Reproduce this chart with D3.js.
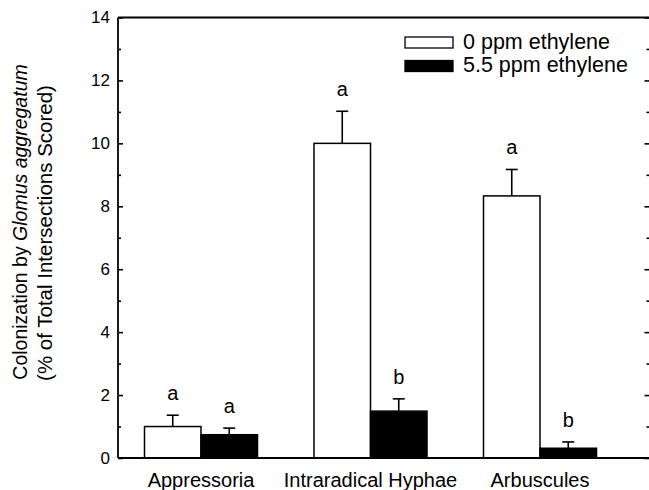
<!DOCTYPE html>
<html><head><meta charset="utf-8">
<script src="https://cdn.jsdelivr.net/npm/d3@7"></script>
<style>
html,body{margin:0;padding:0;background:#fff;}
svg{display:block;font-family:"Liberation Sans",Arial,sans-serif;}
</style></head>
<body><svg id="c" width="649" height="490"></svg>
<script>
const categories = ["Appressoria", "Intraradical Hyphae", "Arbuscules"];
const seriesNames = ["0 ppm ethylene", "5.5 ppm ethylene"];
const control = [1.0, 10.0, 8.33];
const controlErr = [0.36, 1.02, 0.84];
const ethylene = [0.74, 1.49, 0.31];
const ethyleneErr = [0.21, 0.39, 0.2];
const controlLetters = ["a", "a", "a"];
const ethyleneLetters = ["a", "b", "b"];
const yTicks = [0, 2, 4, 6, 8, 10, 12, 14];
const yMinorTicks = [1, 3, 5, 7, 9, 11, 13];

const svg = d3.select("#c");
const mLeft = 118, mRight = 649.5, mTop = 17.5, mBottom = 458;

const y = d3.scaleLinear().domain([0, 14]).range([mBottom, mTop]);
const x0 = d3.scaleBand().domain(categories).range([116.25, 624.75]).padding(0);
const x1 = d3.scaleBand().domain(seriesNames).range([0, x0.bandwidth()]).paddingInner(0).paddingOuter(0.5);

const rows = categories.map((c, i) => [
  {cat: c, s: seriesNames[0], v: control[i], e: controlErr[i], l: controlLetters[i], fill: "#fff"},
  {cat: c, s: seriesNames[1], v: ethylene[i], e: ethyleneErr[i], l: ethyleneLetters[i], fill: "#000"}
]).flat();

// error bars (upward only)
const eg = svg.append("g").attr("stroke", "#000").attr("stroke-width", 1.6);
rows.forEach(d => {
  const cx = x0(d.cat) + x1(d.s) + x1.bandwidth() / 2;
  eg.append("line").attr("x1", cx).attr("x2", cx).attr("y1", y(d.v)).attr("y2", y(d.v + d.e));
  eg.append("line").attr("x1", cx - 6).attr("x2", cx + 6).attr("y1", y(d.v + d.e)).attr("y2", y(d.v + d.e));
});

// bars
svg.append("g").selectAll("rect").data(rows).join("rect")
  .attr("x", d => x0(d.cat) + x1(d.s))
  .attr("y", d => y(d.v))
  .attr("width", x1.bandwidth())
  .attr("height", d => mBottom - y(d.v))
  .attr("fill", d => d.fill)
  .attr("stroke", "#000").attr("stroke-width", 1.5);

// letters
svg.append("g").selectAll("text").data(rows).join("text")
  .attr("x", d => x0(d.cat) + x1(d.s) + x1.bandwidth() / 2)
  .attr("y", d => y(d.v + d.e) - 15)
  .attr("text-anchor", "middle")
  .attr("font-size", 20)
  .text(d => d.l);

// frame lines
const ax = svg.append("g").attr("stroke", "#000").attr("stroke-width", 1.8).attr("fill", "none");
ax.append("line").attr("x1", mLeft).attr("x2", mLeft).attr("y1", mTop).attr("y2", mBottom);
ax.append("line").attr("x1", mLeft).attr("x2", mRight).attr("y1", mTop).attr("y2", mTop);
ax.append("line").attr("x1", mLeft).attr("x2", mRight).attr("y1", mBottom).attr("y2", mBottom);

// left axis (inward ticks)
const yAxisL = d3.axisLeft(y).tickValues(yTicks).tickSize(-5).tickPadding(8).tickFormat(d3.format("d"));
const gL = svg.append("g").attr("transform", `translate(${mLeft},0)`).call(yAxisL);
gL.select(".domain").remove();
gL.selectAll("line").attr("stroke-width", 1.6);
gL.selectAll("text").attr("font-size", 17).attr("font-family", "Liberation Sans, Arial, sans-serif");
const gLm = svg.append("g").attr("transform", `translate(${mLeft},0)`)
  .call(d3.axisLeft(y).tickValues(yMinorTicks).tickSize(-3).tickFormat(""));
gLm.select(".domain").remove();
gLm.selectAll("line").attr("stroke-width", 1.6);

// right axis (inward ticks)
const gR = svg.append("g").attr("transform", `translate(${mRight},0)`)
  .call(d3.axisRight(y).tickValues(yTicks).tickSize(-5).tickFormat(""));
gR.select(".domain").remove();
gR.selectAll("line").attr("stroke-width", 1.6);
const gRm = svg.append("g").attr("transform", `translate(${mRight},0)`)
  .call(d3.axisRight(y).tickValues(yMinorTicks).tickSize(-3).tickFormat(""));
gRm.select(".domain").remove();
gRm.selectAll("line").attr("stroke-width", 1.6);

// x axis labels
const gX = svg.append("g").attr("transform", `translate(0,${mBottom})`)
  .call(d3.axisBottom(x0).tickSize(0));
gX.select(".domain").remove();
gX.selectAll("text").attr("font-size", 20).attr("font-family", "Liberation Sans, Arial, sans-serif")
  .attr("y", 29).attr("dy", 0);

// y label
const yl = svg.append("text").attr("transform", "translate(27,222) rotate(-90)")
  .attr("text-anchor", "middle").attr("font-size", 19.5);
yl.append("tspan").text("Colonization by ");
yl.append("tspan").attr("font-style", "italic").text("Glomus aggregatum");
svg.append("text").attr("transform", "translate(52,233) rotate(-90)")
  .attr("text-anchor", "middle").attr("font-size", 20.5)
  .text("(% of Total Intersections Scored)");

// legend
const lg = svg.append("g");
seriesNames.forEach((s, i) => {
  lg.append("rect").attr("x", 405).attr("y", 37 + i * 23.5).attr("width", 48).attr("height", 11)
    .attr("fill", i === 0 ? "#fff" : "#000").attr("stroke", "#000").attr("stroke-width", 1.3);
  lg.append("text").attr("x", 463).attr("y", 48.5 + i * 23.5).attr("font-size", 21.5).text(s);
});
</script></body></html>
